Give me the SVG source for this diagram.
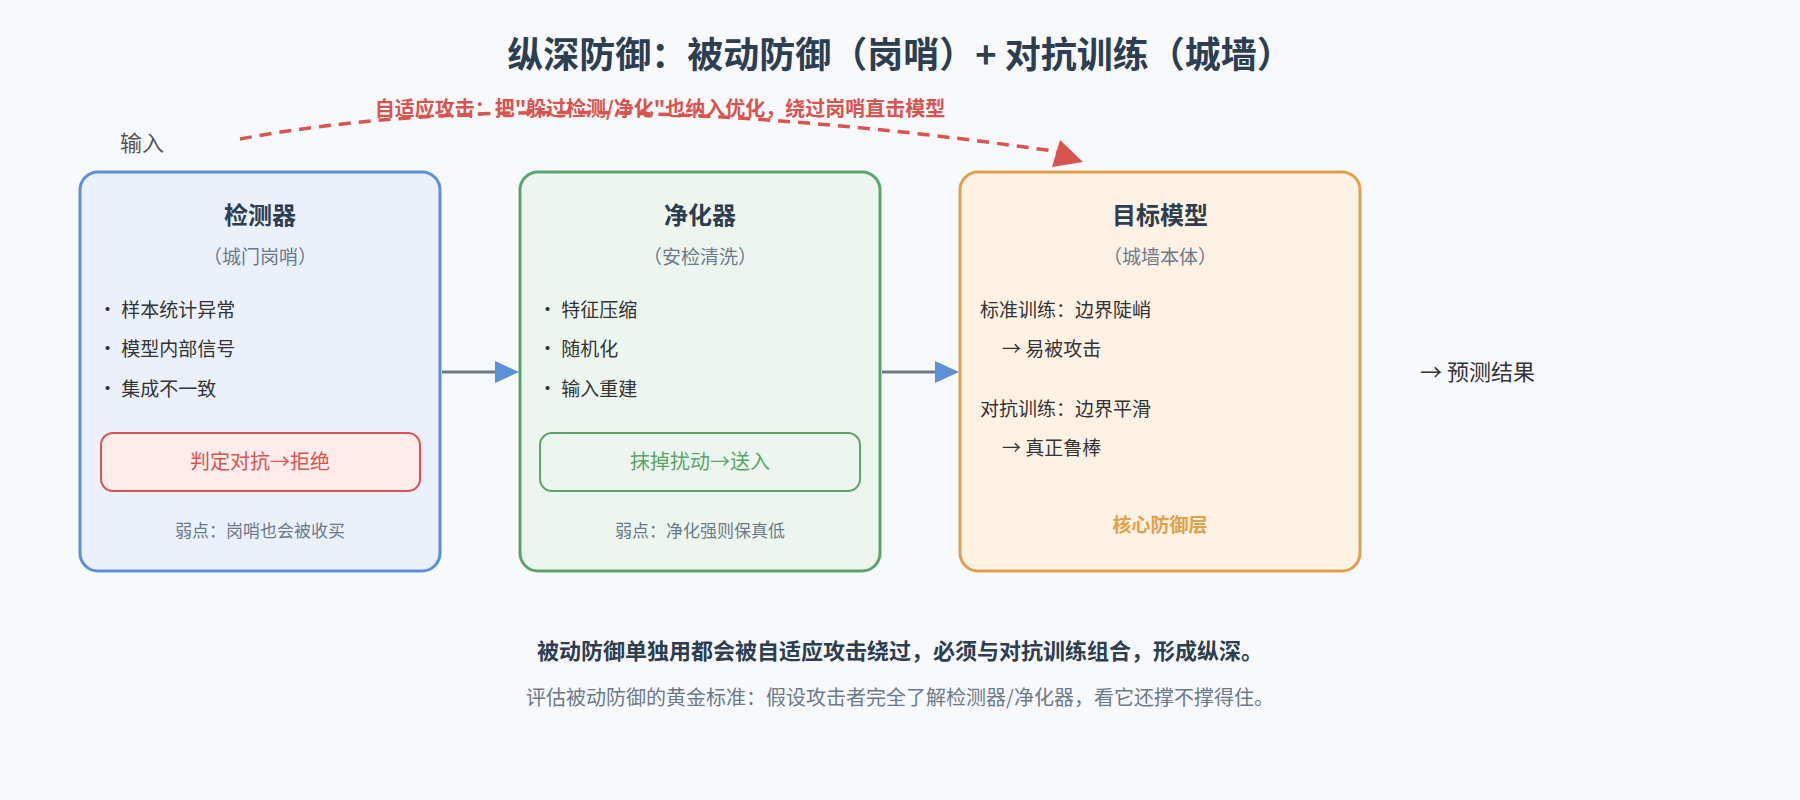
<svg xmlns="http://www.w3.org/2000/svg" width="1800" height="800" viewBox="0 0 1800 800">
<defs>
<style>
text{font-family:"Noto Sans CJK SC","Noto Sans",sans-serif;}
.t{font-size:24px;font-weight:bold;fill:#2c3e50;text-anchor:middle}
.s{font-size:19px;fill:#6b7a8a;text-anchor:middle}
.b{font-size:19px;fill:#333}
.w{font-size:17px;fill:#6b7a8a;text-anchor:middle}
</style>
<marker id="ab" markerWidth="10" markerHeight="10" refX="9" refY="5" orient="auto" markerUnits="userSpaceOnUse"><path d="M0,0 L10,5 L0,10" fill="#5b8fd8"/></marker>
</defs>
<rect width="1800" height="800" fill="#f8f9fc"/>
<text x="900" y="68" font-size="36" font-weight="bold" fill="#2c3e50" text-anchor="middle">纵深防御：被动防御（岗哨）+ 对抗训练（城墙）</text>
<text x="120" y="151" font-size="22" fill="#555">输入</text>
<g id="connectors">
<path d="M240,139 Q560,80 1060,152" fill="none" stroke="#d9534f" stroke-width="3.5" stroke-dasharray="12,8"/>
<polygon points="1083,162 1052,167 1060,140" fill="#d9534f"/>
<line x1="442" y1="372" x2="505" y2="372" stroke="#6b7a8a" stroke-width="3"/>
<polygon points="495,361 519,372 495,383" fill="#5b8fd8"/>
<line x1="882" y1="372" x2="945" y2="372" stroke="#6b7a8a" stroke-width="3"/>
<polygon points="935,361 959,372 935,383" fill="#5b8fd8"/>
</g>
<text x="660" y="116" font-size="20" font-weight="bold" fill="#d9534f" text-anchor="middle">自适应攻击：把"躲过检测/净化"也纳入优化，绕过岗哨直击模型</text>
<g id="detector">
<rect x="80" y="172" width="360" height="399" rx="18" fill="#eaf1fb" stroke="#5b8fd8" stroke-width="3"/>
<text class="t" x="260" y="224">检测器</text>
<text class="s" x="260" y="264">（城门岗哨）</text>
<text class="b" x="98" y="317">· 样本统计异常</text>
<text class="b" x="98" y="356">· 模型内部信号</text>
<text class="b" x="98" y="396">· 集成不一致</text>
<rect x="101" y="433" width="319" height="58" rx="12" fill="#fdecea" stroke="#d9534f" stroke-width="2"/>
<text x="260" y="469" font-size="20" fill="#d9534f" text-anchor="middle">判定对抗→拒绝</text>
<text class="w" x="260" y="537">弱点：岗哨也会被收买</text>
</g>
<g id="purifier">
<rect x="520" y="172" width="360" height="399" rx="18" fill="#edf6ee" stroke="#5aa469" stroke-width="3"/>
<text class="t" x="700" y="224">净化器</text>
<text class="s" x="700" y="264">（安检清洗）</text>
<text class="b" x="538" y="317">· 特征压缩</text>
<text class="b" x="538" y="356">· 随机化</text>
<text class="b" x="538" y="396">· 输入重建</text>
<rect x="540" y="433" width="320" height="58" rx="12" fill="#edf6ee" stroke="#5aa469" stroke-width="2"/>
<text x="700" y="469" font-size="20" fill="#5aa469" text-anchor="middle">抹掉扰动→送入</text>
<text class="w" x="700" y="537">弱点：净化强则保真低</text>
</g>
<g id="model">
<rect x="960" y="172" width="400" height="399" rx="18" fill="#fdf2e4" stroke="#e0a04a" stroke-width="3"/>
<text class="t" x="1160" y="224">目标模型</text>
<text class="s" x="1160" y="264">（城墙本体）</text>
<text class="b" x="980" y="317">标准训练：边界陡峭</text>
<text class="b" x="1002" y="356">→ 易被攻击</text>
<text class="b" x="980" y="416">对抗训练：边界平滑</text>
<text class="b" x="1002" y="455">→ 真正鲁棒</text>
<text x="1160" y="532" font-size="19" font-weight="bold" fill="#e0a04a" text-anchor="middle">核心防御层</text>
</g>
<g id="output">
<text x="1420" y="380" font-size="22" fill="#333">→  预测结果</text>
</g>
<text x="900" y="659" font-size="22" font-weight="bold" fill="#2c3e50" text-anchor="middle">被动防御单独用都会被自适应攻击绕过，必须与对抗训练组合，形成纵深。</text>
<text x="900" y="705" font-size="20" fill="#6b7a8a" text-anchor="middle">评估被动防御的黄金标准：假设攻击者完全了解检测器/净化器，看它还撑不撑得住。</text>
</svg>
